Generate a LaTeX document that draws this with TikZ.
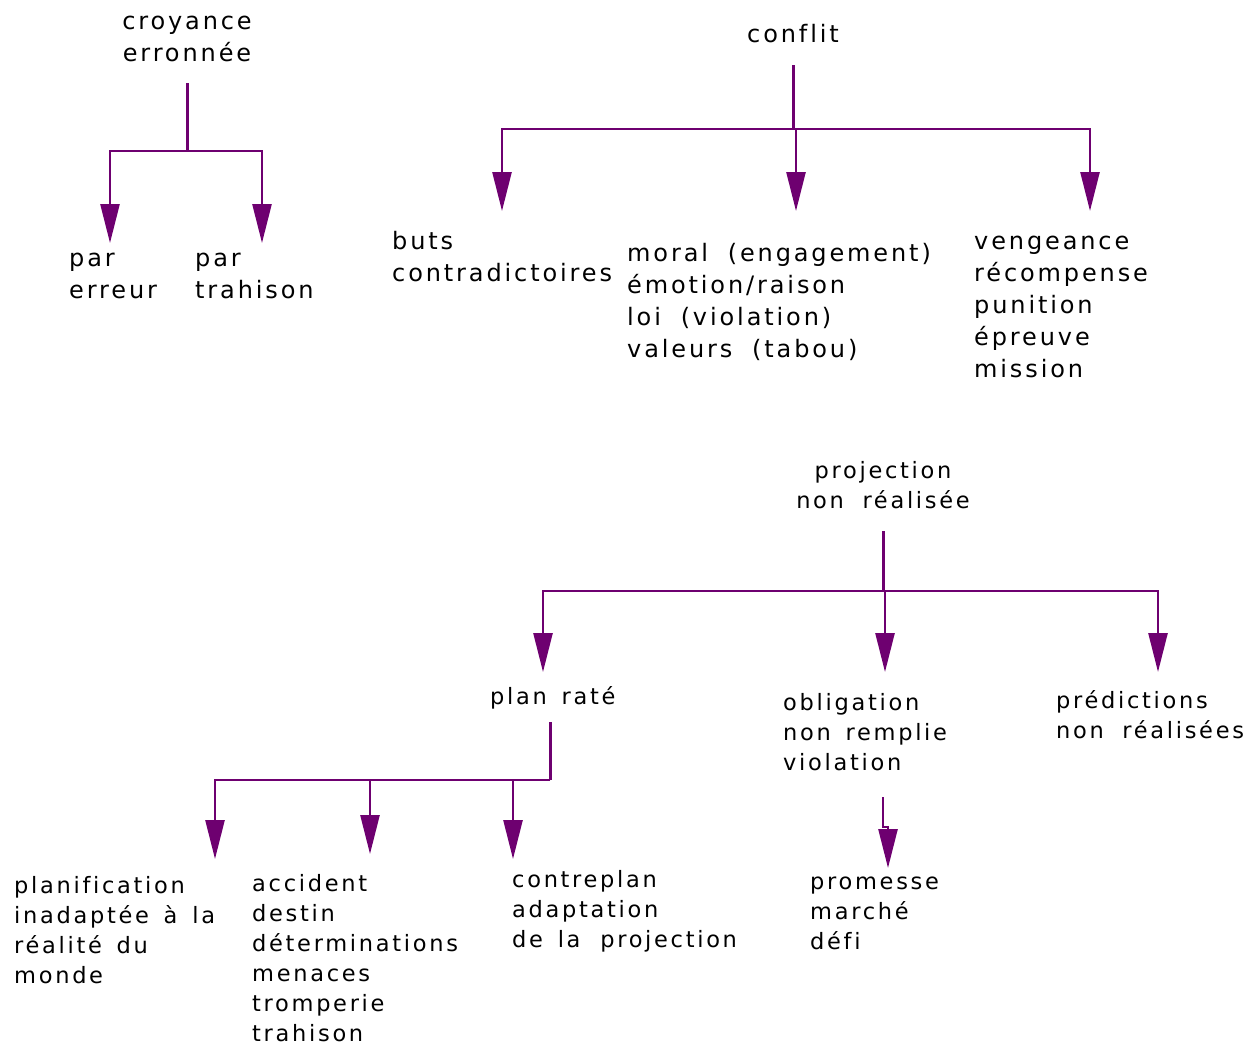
\documentclass[tikz,border=0pt]{standalone}
\usepackage{fontspec}
\setmainfont{DejaVu Sans}[LetterSpace=12, WordSpace=1.5, Ligatures=CommonOff]
\usetikzlibrary{arrows.meta}
\definecolor{vio}{RGB}{110,0,112}
\begin{document}
\begin{tikzpicture}[x=1pt,y=-1pt,
  lbl/.style={inner sep=0pt, align=left, anchor=base west, font=\fontsize{24}{32}\selectfont},
  lblc/.style={lbl, align=center, anchor=base},
  lo/.style={font=\fontsize{22.5}{30}\selectfont},
  link/.style={draw=vio, line width=3pt},
  drop/.style={draw=vio, line width=2.6pt, -{Triangle[width=19pt,length=39pt]}},
]
\useasboundingbox (0,0) rectangle (1252,1045);

% texts (anchor = baseline of the last line)
\node[lblc] (cr) at (187,61) {croyance\\erronnée};
\node[lbl] (par1) at (69,298) {par\\erreur};
\node[lbl] (par2) at (195,298) {par\\trahison};
\node[lblc] (conf) at (793,42) {conflit};
\node[lbl] (buts) at (392,281) {buts\\contradictoires};
\node[lbl] (moral) at (627,357) {moral \,(engagement)\\émotion/raison\\loi \,(violation)\\valeurs \,(tabou)};
\node[lbl] (veng) at (974,377) {vengeance\\récompense\\punition\\épreuve\\mission};
\node[lblc,lo] (proj) at (883,508) {projection\\non \,réalisée};
\node[lbl,lo] (plan) at (490,704) {plan raté};
\node[lbl,lo] (oblig) at (783,770) {obligation\\non remplie\\violation};
\node[lbl,lo] (pred) at (1056,738) {prédictions\\non \,réalisées};
\node[lbl,lo] (planif) at (14,983) {planification\\inadaptée à la\\réalité du\\monde};
\node[lbl,lo] (acc) at (252,1041) {accident\\destin\\déterminations\\menaces\\tromperie\\trahison};
\node[lbl,lo] (contre) at (512,947) {contreplan\\adaptation\\de la \hspace{5pt}projection};
\node[lbl,lo] (prom) at (810,949) {promesse\\marché\\défi};

% tree 1
\coordinate (s1) at (187,83);
\coordinate (j1) at (187,151);
\coordinate (t1a) at (110,243);
\coordinate (t1b) at (262,243);
\draw[link] (s1) -- (j1);
\draw[drop] (j1) -| (t1a);
\draw[drop] (j1) -| (t1b);

% tree 2
\coordinate (s2) at (793,65);
\coordinate (j2) at (793,129);
\coordinate (t2a) at (502,211);
\coordinate (t2b) at (796,211);
\coordinate (t2c) at (1090,211);
\draw[link] (s2) -- (j2);
\draw[drop] (j2) -| (t2a);
\draw[drop] (j2) -| (t2b);
\draw[drop] (j2) -| (t2c);

% tree 3
\coordinate (s3) at (883,531);
\coordinate (j3) at (883,591);
\coordinate (t3a) at (543,672);
\coordinate (t3b) at (885,672);
\coordinate (t3c) at (1158,672);
\draw[link] (s3) -- (j3);
\draw[drop] (j3) -| (t3a);
\draw[drop] (j3) -| (t3b);
\draw[drop] (j3) -| (t3c);

% tree 4
\coordinate (s4) at (550,722);
\coordinate (j4) at (550,780);
\coordinate (t4a) at (215,859);
\coordinate (t4b) at (370,854);
\coordinate (t4c) at (513,859);
\draw[link] (s4) -- (j4);
\draw[drop] (j4) -| (t4a);
\draw[drop] (j4) -| (t4b);
\draw[drop] (j4) -| (t4c);

% tree 5
\coordinate (s5) at (883,797);
\coordinate (k5) at (883,827);
\coordinate (t5) at (888,868);
\draw[drop] (s5) -- (k5) -| (t5);
\end{tikzpicture}
\end{document}
